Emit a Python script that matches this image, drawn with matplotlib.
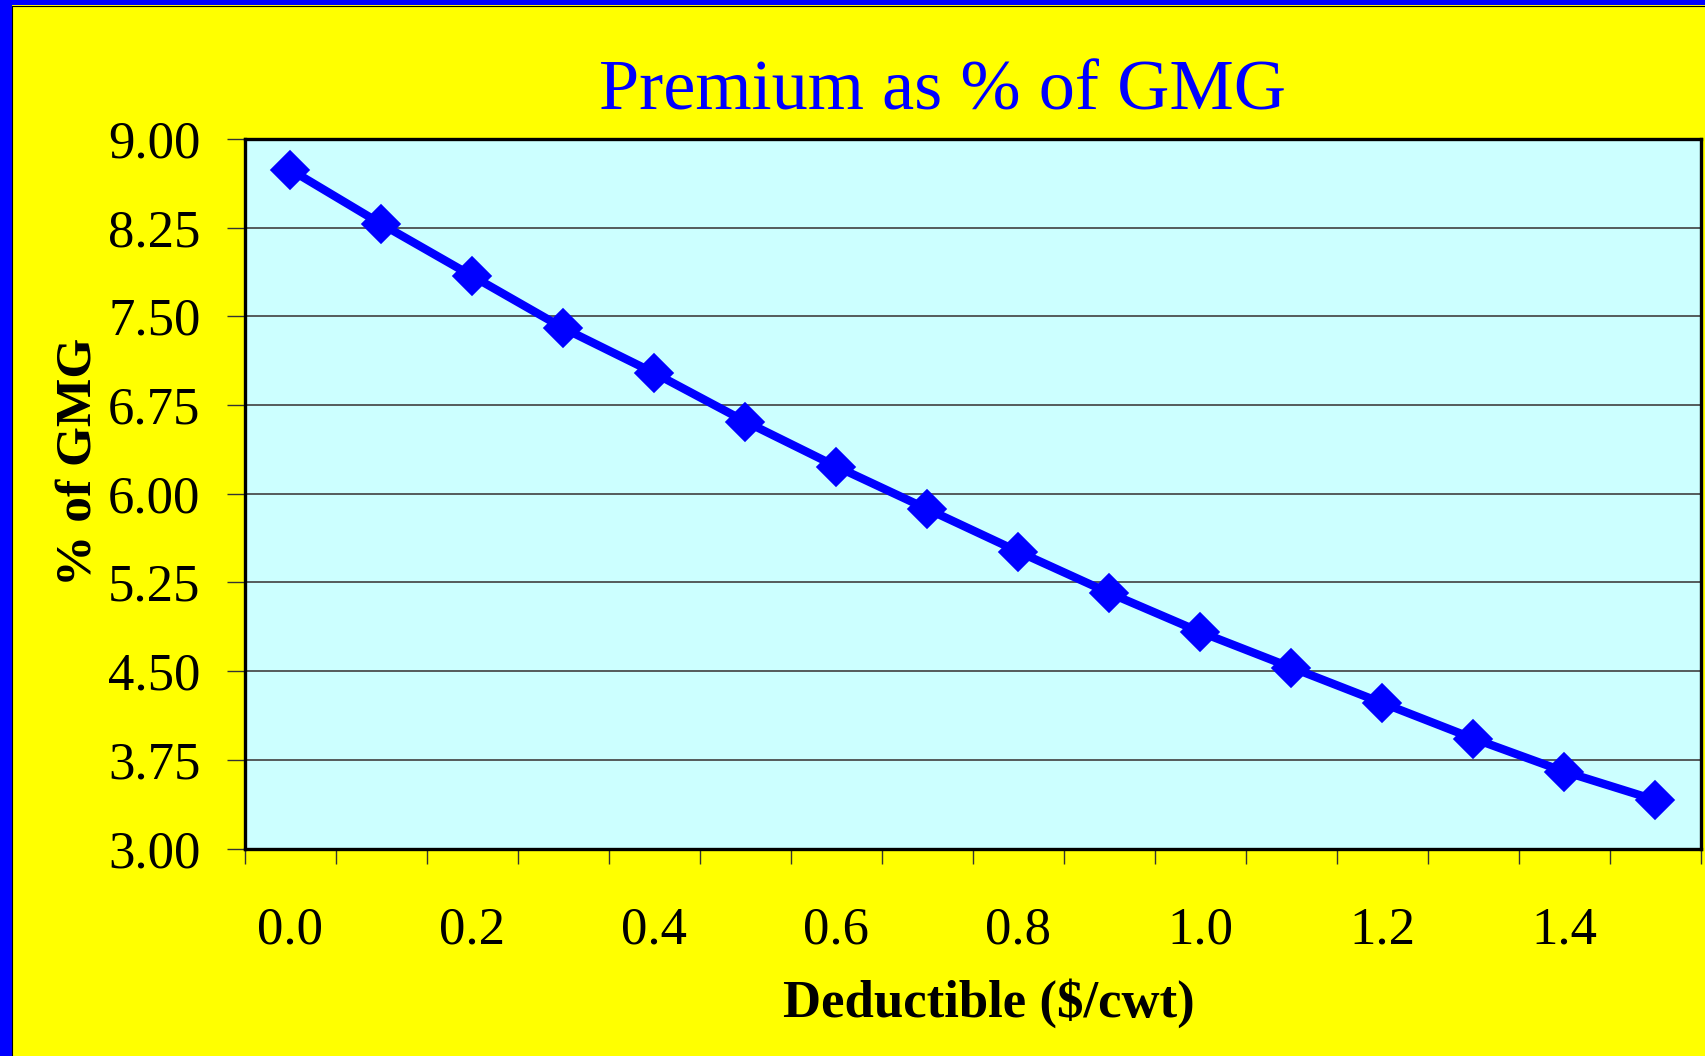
import matplotlib
matplotlib.use("Agg")
import matplotlib.pyplot as plt
from matplotlib.patches import Rectangle
from matplotlib.ticker import FixedLocator, NullFormatter

# Deductible levels ($/cwt) and premium as percent of gross margin guarantee
deductibles = ["0.0", "0.1", "0.2", "0.3", "0.4", "0.5", "0.6", "0.7",
               "0.8", "0.9", "1.0", "1.1", "1.2", "1.3", "1.4", "1.5"]
premium_pct = [8.74, 8.28, 7.84, 7.40, 7.02, 6.61, 6.23, 5.87,
               5.51, 5.16, 4.83, 4.53, 4.23, 3.93, 3.65, 3.41]
y_ticks = [3.00, 3.75, 4.50, 5.25, 6.00, 6.75, 7.50, 8.25, 9.00]

title = "Premium as % of GMG"
x_label = "Deductible ($/cwt)"
y_label = "% of GMG"

W, H = 1706, 1056
plt.rcParams["font.family"] = ["Liberation Serif", "DejaVu Serif"]

fig = plt.figure(figsize=(W / 100, H / 100), dpi=100, facecolor="#FFFF00")

# blue frame along the left and top edges, with a thin dark inner rule
fig.patches.append(Rectangle((0, 0), 12 / W, 1, transform=fig.transFigure,
                             facecolor="#0000FF", edgecolor="none", zorder=0))
fig.patches.append(Rectangle((0, 1 - 5 / H), 1, 5 / H, transform=fig.transFigure,
                             facecolor="#0000FF", edgecolor="none", zorder=0))
fig.add_artist(plt.Line2D([12.5 / W, 12.5 / W], [0, 1 - 5.5 / H],
                          transform=fig.transFigure, color="black", lw=0.8))
fig.add_artist(plt.Line2D([12.5 / W, 1], [1 - 5.5 / H, 1 - 5.5 / H],
                          transform=fig.transFigure, color="black", lw=0.8))

left, right, top, bottom = 245, 1701, 139, 848.5
ax = fig.add_axes([left / W, 1 - bottom / H, (right - left) / W, (bottom - top) / H])
ax.set_facecolor("#CCFFFF")

x = list(range(len(deductibles)))
ax.plot(x, premium_pct, color="#0000FF", lw=6, marker="D", ms=19,
        markerfacecolor="#0000FF", markeredgecolor="#0000FF", mew=1.2,
        solid_joinstyle="round", zorder=3)

ax.set_xlim(-0.5, len(deductibles) - 0.5)
ax.set_ylim(3.0, 9.0)

# y axis: ticks every 0.75 with horizontal gridlines
ax.set_yticks(y_ticks)
ax.set_yticklabels([f"{v:.2f}" for v in y_ticks])
ax.yaxis.grid(True, color="#404040", lw=1.2)
ax.set_axisbelow(True)
ax.tick_params(axis="y", which="major", direction="out", length=13, width=1,
               color="#333333", pad=19, labelsize=38)

# x axis: category labels on every other point, tick marks between categories
ax.xaxis.set_major_locator(FixedLocator(x[::2]))
ax.set_xticklabels(deductibles[::2])
ax.xaxis.set_minor_locator(FixedLocator([i - 0.5 for i in range(len(deductibles) + 1)]))
ax.xaxis.set_minor_formatter(NullFormatter())
ax.tick_params(axis="x", which="major", length=0, pad=42, labelsize=38)
ax.tick_params(axis="x", which="minor", direction="out", length=11, width=1,
               color="#333333")

for s in ax.spines.values():
    s.set_color("black")
    s.set_linewidth(2.4)

fig.text(943 / W, 1 - 110 / H, title, color="#0000FF", fontsize=52,
         ha="center", va="baseline")
fig.text(989 / W, 1 - 1017 / H, x_label, fontsize=38, fontweight="bold",
         ha="center", va="baseline")
fig.text(79 / W, 1 - 462 / H, y_label, fontsize=37, fontweight="bold",
         rotation=90, ha="center", va="center")

fig.savefig("out.png", dpi=100, facecolor=fig.get_facecolor())
